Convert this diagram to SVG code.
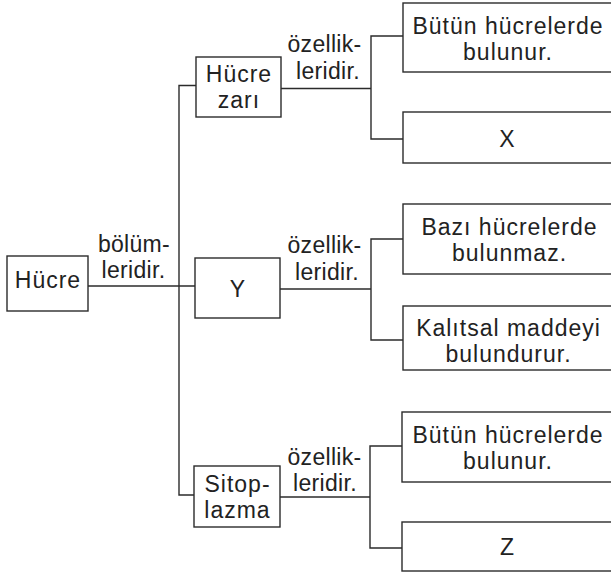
<svg xmlns="http://www.w3.org/2000/svg" width="611" height="576" viewBox="0 0 611 576">
<style>
.box{fill:#fff;stroke:#2b2b2b;stroke-width:1.4}
.ln{fill:none;stroke:#2b2b2b;stroke-width:1.4}
text{font-family:"Liberation Sans",Arial,sans-serif;font-size:23px;fill:#222;text-anchor:middle;letter-spacing:1px}
text.lb{letter-spacing:0.3px}
</style>
<rect width="611" height="576" fill="#fff"/>
<g id="connectors">
<path class="ln" d="M88,286 H195"/>
<path class="ln" d="M196,85.5 H179 V495 H194"/>
<path class="ln" d="M281,88.5 H371"/>
<path class="ln" d="M403,36 H371 V139 H403"/>
<path class="ln" d="M280,289 H371"/>
<path class="ln" d="M403,239 H371 V340 H403"/>
<path class="ln" d="M280,497 H370"/>
<path class="ln" d="M402,446 H370 V548 H402"/>
</g>
<g id="labels">
<text class="lb" x="134" y="252">bölüm-</text>
<text class="lb" x="133.5" y="278">leridir.</text>
<text class="lb" x="324.5" y="52">özellik-</text>
<text class="lb" x="328" y="79">leridir.</text>
<text class="lb" x="324.5" y="253">özellik-</text>
<text class="lb" x="327" y="280">leridir.</text>
<text class="lb" x="324.5" y="465">özellik-</text>
<text class="lb" x="325" y="491">leridir.</text>
</g>
<g id="hucre">
<rect class="box" x="7" y="256" width="81" height="55"/>
<text x="48" y="288">Hücre</text>
</g>
<g id="hucre-zari">
<rect class="box" x="196" y="57" width="85" height="60"/>
<text x="239" y="82">Hücre</text>
<text x="239" y="108">zarı</text>
</g>
<g id="y">
<rect class="box" x="195" y="258" width="85" height="60"/>
<text x="238" y="297">Y</text>
</g>
<g id="sitoplazma">
<rect class="box" x="194" y="466" width="86" height="61"/>
<text x="237.5" y="492">Sitop-</text>
<text x="237.5" y="518">lazma</text>
</g>
<g id="zar-ozellik-1">
<rect class="box" x="403" y="3" width="215" height="69"/>
<text x="508" y="34">Bütün hücrelerde</text>
<text x="508" y="60">bulunur.</text>
</g>
<g id="zar-ozellik-x">
<rect class="box" x="403" y="112" width="215" height="51"/>
<text x="507.5" y="147">X</text>
</g>
<g id="y-ozellik-1">
<rect class="box" x="403" y="204" width="215" height="70"/>
<text x="509.5" y="235">Bazı hücrelerde</text>
<text x="509.5" y="261">bulunmaz.</text>
</g>
<g id="y-ozellik-2">
<rect class="box" x="403" y="306" width="215" height="64"/>
<text x="508.5" y="336">Kalıtsal maddeyi</text>
<text x="508.5" y="362">bulundurur.</text>
</g>
<g id="sitoplazma-ozellik-1">
<rect class="box" x="402" y="412" width="216" height="70"/>
<text x="508" y="443">Bütün hücrelerde</text>
<text x="508" y="469">bulunur.</text>
</g>
<g id="sitoplazma-ozellik-z">
<rect class="box" x="402" y="522" width="216" height="49"/>
<text x="507.5" y="555">Z</text>
</g>
</svg>
